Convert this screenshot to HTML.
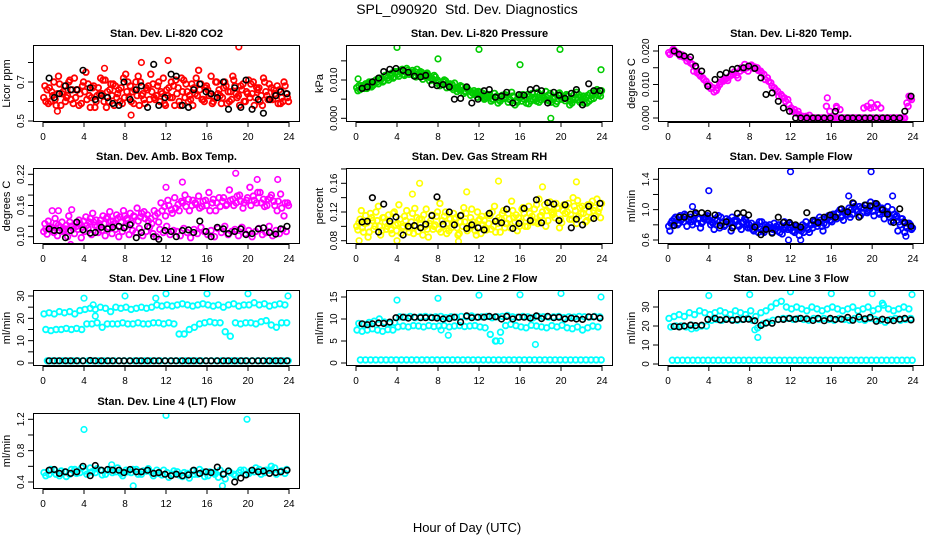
<!DOCTYPE html>
<html><head><meta charset="utf-8"><style>
html,body{margin:0;padding:0;background:#fff;}
svg{display:block;font-family:"Liberation Sans",sans-serif;}
</style></head><body>
<svg id="chart" width="936" height="540" viewBox="0 0 936 540">
<rect width="936" height="540" fill="#fff"/>
<text x="467" y="14" text-anchor="middle" font-size="14" style="white-space:pre">SPL_090920  Std. Dev. Diagnostics</text>
<text x="467" y="532" text-anchor="middle" font-size="13">Hour of Day (UTC)</text>
</svg>
<script>
const xTicks = [0,4,8,12,16,20,24];
const xTickLabels = ["0","4","8","12","16","20","24"];
const blackHours = [0.6,1.1,1.6,2.2,2.7,3.3,3.9,4.6,5.1,5.7,6.3,6.8,7.4,7.9,8.5,9.1,9.6,10.2,10.8,11.3,11.9,12.5,13.0,13.6,14.2,14.7,15.3,15.9,16.4,17.0,17.6,18.1,18.7,19.3,19.8,20.4,21.0,21.5,22.1,22.7,23.2,23.8];

// CO2
const co2Ticks=[0.5,0.6,0.7,0.8]; const co2Labels=["0.5","","0.7",""];
const co2A=[0.62,0.66,0.60,0.70,0.64,0.58,0.68,0.63,0.61,0.72,0.66,0.59,0.65,0.69,0.62,0.57,0.67,0.64,0.71,0.60,0.63,0.68,0.66,0.59,0.74,0.62,0.65,0.70,0.58,0.64,0.67,0.61,0.69,0.63,0.60,0.72,0.66,0.62,0.68,0.64,0.58,0.71,0.65,0.61,0.67,0.63,0.69,0.60,0.66,0.73,0.62,0.64,0.59,0.70,0.65,0.61,0.68,0.63,0.66,0.60,0.71,0.64,0.62,0.67,0.58,0.65,0.69,0.61,0.63,0.66,0.60,0.64];
const co2B=[0.68,0.59,0.65,0.61,0.73,0.64,0.60,0.70,0.66,0.62,0.58,0.68,0.75,0.63,0.67,0.60,0.64,0.71,0.57,0.66,0.69,0.62,0.60,0.72,0.65,0.68,0.59,0.63,0.70,0.61,0.66,0.74,0.62,0.68,0.65,0.59,0.63,0.70,0.58,0.67,0.72,0.62,0.60,0.69,0.64,0.76,0.61,0.67,0.63,0.59,0.70,0.66,0.62,0.68,0.60,0.73,0.64,0.58,0.69,0.65,0.62,0.70,0.67,0.60,0.72,0.63,0.61,0.66,0.68,0.59,0.70,0.62];
const co2C=[0.60,0.67,0.63,0.58,0.69,0.65,0.62,0.71,0.59,0.66,0.64,0.70,0.61,0.57,0.68,0.63,0.72,0.60,0.65,0.69,0.58,0.64,0.67,0.62,0.70,0.60,0.66,0.73,0.63,0.59,0.68,0.65,0.61,0.70,0.64,0.58,0.67,0.62,0.71,0.60,0.65,0.69,0.63,0.58,0.72,0.66,0.61,0.68,0.64,0.60,0.70,0.63,0.67,0.59,0.65,0.71,0.62,0.68,0.60,0.64,0.69,0.58,0.66,0.63,0.70,0.61,0.67,0.64,0.59,0.62,0.68,0.60];
const co2OutH=[19.1,9.6,12.2,8.6,1.4,6.0]; const co2OutV=[0.88,0.80,0.81,0.53,0.55,0.77];
const co2K=[0.72,0.62,0.64,0.68,0.66,0.66,0.76,0.67,0.61,0.63,0.62,0.59,0.58,0.70,0.61,0.66,0.68,0.57,0.79,0.58,0.62,0.74,0.73,0.58,0.57,0.66,0.69,0.65,0.64,0.62,0.70,0.56,0.67,0.57,0.71,0.56,0.61,0.54,0.61,0.63,0.65,0.64];

// Pressure
const prTicks=[0,0.005,0.010,0.015]; const prLabels=["0.000","","0.010",""];
const prA=[0.0080,0.0075,0.0085,0.0078,0.0090,0.0088,0.0095,0.0100,0.0098,0.0105,0.0110,0.0108,0.0115,0.0120,0.0112,0.0125,0.0118,0.0122,0.0115,0.0120,0.0110,0.0112,0.0105,0.0108,0.0095,0.0090,0.0098,0.0085,0.0088,0.0080,0.0075,0.0082,0.0070,0.0072,0.0065,0.0068,0.0060,0.0065,0.0055,0.0062,0.0050,0.0058,0.0045,0.0052,0.0060,0.0048,0.0055,0.0042,0.0058,0.0050,0.0062,0.0045,0.0055,0.0068,0.0048,0.0052,0.0060,0.0042,0.0056,0.0065,0.0050,0.0046,0.0058,0.0040,0.0052,0.0062,0.0048,0.0055,0.0045,0.0060,0.0070,0.0065];
const prB=[0.0072,0.0085,0.0078,0.0092,0.0082,0.0098,0.0090,0.0105,0.0112,0.0100,0.0118,0.0122,0.0110,0.0128,0.0120,0.0115,0.0125,0.0108,0.0118,0.0102,0.0115,0.0098,0.0100,0.0092,0.0085,0.0095,0.0080,0.0090,0.0075,0.0070,0.0085,0.0065,0.0078,0.0060,0.0072,0.0055,0.0068,0.0050,0.0058,0.0045,0.0065,0.0040,0.0055,0.0062,0.0042,0.0068,0.0035,0.0060,0.0045,0.0055,0.0038,0.0065,0.0050,0.0042,0.0060,0.0070,0.0045,0.0052,0.0038,0.0066,0.0055,0.0062,0.0035,0.0050,0.0068,0.0042,0.0058,0.0040,0.0065,0.0052,0.0075,0.0058];
const prC=[0.0085,0.0080,0.0090,0.0095,0.0085,0.0100,0.0105,0.0095,0.0110,0.0115,0.0105,0.0120,0.0125,0.0115,0.0130,0.0120,0.0112,0.0128,0.0122,0.0110,0.0118,0.0105,0.0112,0.0100,0.0090,0.0100,0.0088,0.0080,0.0092,0.0078,0.0082,0.0070,0.0075,0.0068,0.0062,0.0070,0.0058,0.0052,0.0062,0.0050,0.0055,0.0048,0.0060,0.0055,0.0050,0.0058,0.0045,0.0052,0.0062,0.0040,0.0058,0.0050,0.0045,0.0062,0.0055,0.0048,0.0065,0.0050,0.0044,0.0060,0.0052,0.0058,0.0045,0.0062,0.0048,0.0055,0.0040,0.0060,0.0050,0.0068,0.0060,0.0072];
const prOutH=[4.0,8.0,12.0,16.0,19.9,23.9,0.2,19.0]; const prOutV=[0.0185,0.0155,0.0180,0.0140,0.0180,0.0127,0.0103,0.0000];
const prK=[0.0078,0.0082,0.0095,0.0105,0.0122,0.0128,0.0130,0.0125,0.0120,0.0110,0.0108,0.0112,0.0088,0.0085,0.0088,0.0082,0.0050,0.0052,0.0082,0.0040,0.0050,0.0072,0.0075,0.0055,0.0058,0.0068,0.0040,0.0062,0.0060,0.0075,0.0078,0.0072,0.0040,0.0068,0.0060,0.0052,0.0065,0.0075,0.0035,0.0090,0.0072,0.0072];

// Li-820 Temp
const tpTicks=[0,0.005,0.010,0.015,0.020]; const tpLabels=["0.000","","0.010","","0.020"];
const tpA=[0.0195,0.0200,0.0198,0.0192,0.0188,0.0180,0.0175,0.0160,0.0150,0.0130,0.0120,0.0110,0.0098,0.0090,0.0082,0.0100,0.0110,0.0118,0.0125,0.0130,0.0128,0.0140,0.0145,0.0150,0.0155,0.0148,0.0150,0.0140,0.0130,0.0120,0.0105,0.0090,0.0080,0.0070,0.0060,0.0055,0.0030,0.0025,0.0020,0,0,0,0,0,0,0,0,0,0,0,0,0,0,0,0,0,0,0,0,0,0,0,0,0,0,0,0,0,0,0,0.0045,0.0060];
const tpB=[0.0190,0.0205,0.0195,0.0185,0.0182,0.0170,0.0165,0.0140,0.0135,0.0125,0.0115,0.0100,0.0088,0.0078,0.0090,0.0108,0.0115,0.0112,0.0130,0.0138,0.0120,0.0150,0.0160,0.0140,0.0158,0.0152,0.0142,0.0135,0.0115,0.0110,0.0095,0.0085,0.0065,0.0065,0.0050,0.0040,0.0020,0.0015,0.0010,0.0005,0.0005,0.0008,0,0,0,0,0.0035,0.0020,0,0.0030,0.0025,0,0,0,0,0,0,0.0030,0.0035,0.0030,0.0032,0.0040,0.0030,0,0,0,0,0,0,0,0.0035,0.0055];
const tpOutH=[15.6,16.5,19.9,23.6]; const tpOutV=[0.0060,0.0035,0.0045,0.0065];
const tpK=[0.0200,0.0190,0.0185,0.0182,0.0155,0.0140,0.0095,0.0115,0.0130,0.0135,0.0145,0.0148,0.0150,0.0155,0.0148,0.0120,0.0070,0.0075,0.0050,0.0030,0.0020,0,0,0,0,0,0,0,0.0020,0,0,0,0,0,0,0,0,0,0,0,0.0020,0.0065];

// Amb box temp
const bxTicks=[0.10,0.12,0.14,0.16,0.18,0.20,0.22]; const bxLabels=["0.10","","","0.16","","","0.22"];
const bxA=[0.110,0.105,0.115,0.108,0.102,0.118,0.112,0.100,0.120,0.106,0.114,0.098,0.110,0.116,0.104,0.122,0.108,0.112,0.102,0.118,0.106,0.114,0.100,0.110,0.120,0.104,0.112,0.108,0.116,0.102,0.110,0.118,0.106,0.100,0.114,0.108,0.120,0.104,0.112,0.110,0.102,0.116,0.108,0.098,0.114,0.106,0.118,0.110,0.104,0.112,0.100,0.116,0.108,0.120,0.104,0.110,0.114,0.102,0.118,0.106,0.112,0.100,0.110,0.116,0.104,0.108,0.120,0.102,0.112,0.106,0.114,0.110];
const bxB=[0.125,0.130,0.118,0.135,0.122,0.128,0.115,0.140,0.120,0.126,0.132,0.118,0.138,0.128,0.145,0.132,0.125,0.140,0.135,0.148,0.130,0.142,0.138,0.150,0.135,0.145,0.140,0.155,0.138,0.148,0.142,0.135,0.150,0.145,0.165,0.158,0.170,0.152,0.175,0.162,0.168,0.180,0.172,0.160,0.165,0.178,0.158,0.170,0.185,0.165,0.150,0.175,0.168,0.160,0.190,0.172,0.165,0.180,0.155,0.170,0.195,0.178,0.165,0.185,0.172,0.160,0.175,0.168,0.150,0.182,0.140,0.165];
const bxC=[0.115,0.120,0.112,0.125,0.118,0.110,0.122,0.128,0.115,0.120,0.125,0.130,0.122,0.135,0.128,0.120,0.132,0.125,0.138,0.130,0.125,0.135,0.128,0.140,0.132,0.126,0.138,0.130,0.145,0.135,0.130,0.125,0.140,0.128,0.150,0.140,0.160,0.145,0.155,0.150,0.165,0.158,0.150,0.170,0.162,0.155,0.168,0.160,0.150,0.172,0.165,0.158,0.175,0.162,0.170,0.160,0.178,0.168,0.165,0.175,0.160,0.170,0.185,0.165,0.158,0.172,0.180,0.160,0.168,0.155,0.165,0.160];
const bxOutH=[0.9,2.8,18.8,20.9,22.9,13.6,2.7,1.5,12.0]; const bxOutV=[0.150,0.152,0.222,0.210,0.210,0.205,0.085,0.150,0.195];
const bxK=[0.115,0.112,0.112,0.098,0.112,0.128,0.113,0.107,0.108,0.118,0.115,0.118,0.120,0.117,0.123,0.098,0.108,0.120,0.100,0.095,0.112,0.110,0.100,0.112,0.113,0.108,0.130,0.110,0.100,0.118,0.115,0.106,0.110,0.115,0.104,0.106,0.115,0.117,0.108,0.105,0.115,0.120];

// RH
const rhTicks=[0.08,0.10,0.12,0.14,0.16,0.18]; const rhLabels=["0.08","","0.12","","0.16",""];
const rhA=[0.100,0.110,0.092,0.105,0.118,0.096,0.108,0.088,0.112,0.100,0.095,0.120,0.104,0.090,0.114,0.098,0.106,0.125,0.093,0.110,0.100,0.085,0.116,0.102,0.096,0.108,0.120,0.094,0.104,0.112,0.090,0.100,0.118,0.097,0.106,0.088,0.110,0.102,0.095,0.115,0.100,0.108,0.092,0.122,0.104,0.098,0.112,0.094,0.106,0.118,0.100,0.110,0.124,0.104,0.115,0.130,0.108,0.120,0.112,0.125,0.105,0.118,0.132,0.110,0.122,0.114,0.128,0.106,0.120,0.135,0.115,0.125];
const rhB=[0.095,0.122,0.104,0.085,0.112,0.100,0.128,0.094,0.106,0.116,0.090,0.102,0.130,0.098,0.108,0.092,0.118,0.100,0.110,0.088,0.124,0.104,0.096,0.114,0.132,0.100,0.090,0.110,0.118,0.098,0.106,0.126,0.094,0.112,0.102,0.120,0.090,0.108,0.116,0.096,0.128,0.104,0.110,0.098,0.118,0.135,0.106,0.112,0.124,0.100,0.128,0.114,0.106,0.138,0.120,0.100,0.126,0.116,0.132,0.098,0.122,0.128,0.110,0.140,0.104,0.126,0.118,0.108,0.130,0.122,0.138,0.112];
const rhC=[0.105,0.098,0.115,0.092,0.108,0.120,0.100,0.112,0.096,0.104,0.118,0.094,0.110,0.100,0.122,0.098,0.090,0.112,0.104,0.116,0.096,0.108,0.100,0.120,0.092,0.114,0.104,0.098,0.110,0.088,0.116,0.106,0.100,0.124,0.094,0.108,0.114,0.098,0.104,0.120,0.092,0.112,0.118,0.104,0.110,0.122,0.116,0.100,0.126,0.112,0.118,0.106,0.130,0.114,0.108,0.122,0.134,0.118,0.126,0.110,0.130,0.120,0.116,0.128,0.136,0.118,0.124,0.130,0.112,0.126,0.120,0.132];
const rhOutH=[6.2,13.9,21.5,4.0,10.0,0.3,5.5,10.8,18.2]; const rhOutV=[0.160,0.163,0.162,0.080,0.079,0.080,0.145,0.148,0.155];
const rhK=[0.106,0.107,0.140,0.092,0.131,0.107,0.113,0.088,0.100,0.101,0.098,0.103,0.115,0.141,0.103,0.120,0.102,0.115,0.097,0.102,0.098,0.095,0.118,0.107,0.105,0.124,0.097,0.104,0.125,0.108,0.137,0.105,0.133,0.131,0.108,0.130,0.098,0.110,0.102,0.128,0.111,0.132];

// Sample flow
const sfTicks=[0.6,0.8,1.0,1.2,1.4]; const sfLabels=["0.6","","1.0","","1.4"];
const sfA=[0.78,0.85,0.90,0.82,0.88,0.92,0.86,0.80,0.94,0.88,0.84,0.90,0.86,0.82,0.80,0.76,0.84,0.88,0.82,0.78,0.86,0.90,0.84,0.80,0.76,0.72,0.80,0.74,0.70,0.78,0.76,0.82,0.72,0.78,0.84,0.74,0.80,0.70,0.76,0.72,0.78,0.74,0.80,0.86,0.82,0.78,0.88,0.92,0.84,0.90,0.96,0.92,0.98,1.02,0.94,1.00,1.04,0.96,1.06,1.00,0.98,1.04,0.94,1.00,0.96,0.90,0.86,0.92,0.80,0.84,0.76,0.80];
const sfB=[0.72,0.80,0.86,0.92,0.84,0.78,0.90,0.86,0.82,0.76,0.88,0.92,0.80,0.74,0.86,0.90,0.78,0.84,0.72,0.86,0.80,0.74,0.88,0.76,0.82,0.78,0.70,0.84,0.80,0.76,0.70,0.74,0.80,0.68,0.76,0.82,0.72,0.78,0.66,0.80,0.84,0.70,0.76,0.82,0.90,0.72,0.80,0.86,0.94,0.88,1.00,0.86,0.94,0.90,1.08,0.98,0.92,1.02,0.96,1.10,0.92,1.06,1.00,0.88,1.04,0.84,0.94,0.72,0.88,0.70,0.82,0.74];
const sfC=[0.82,0.88,0.80,0.86,0.94,0.88,0.84,0.92,0.88,0.82,0.90,0.86,0.84,0.88,0.92,0.82,0.80,0.86,0.90,0.84,0.78,0.82,0.86,0.80,0.74,0.78,0.84,0.72,0.76,0.80,0.74,0.78,0.70,0.74,0.80,0.76,0.72,0.78,0.74,0.70,0.76,0.80,0.84,0.78,0.86,0.82,0.90,0.86,0.92,0.96,0.90,0.98,0.94,1.00,1.04,0.98,1.02,1.06,0.98,1.04,1.08,0.96,1.02,0.98,0.94,1.00,0.90,0.84,0.88,0.78,0.82,0.76];
const sfOutH=[12.0,19.9,4.0,2.4,11.8,13.0,23.3,17.7,22.0]; const sfOutV=[1.50,1.50,1.25,1.04,0.60,0.60,0.65,1.18,1.18];
const sfK=[0.79,0.90,0.90,0.94,0.96,0.96,0.95,0.93,0.79,0.84,0.76,0.95,0.96,0.93,0.77,0.67,0.74,0.69,0.90,0.83,0.83,0.80,0.77,0.96,0.86,0.83,0.90,0.93,0.90,1.01,0.97,1.09,0.90,1.06,1.05,1.08,1.00,0.94,0.83,1.01,0.83,0.78];

// Line 1
const l1Ticks=[0,5,10,15,20,25,30]; const l1Labels=["0","","10","","20","","30"];
const l1A=[22,22.5,22,23,22.5,23,22,23.5,24,24.5,24,25,24.5,23,25,24.5,25,24,24.5,25,24.5,25,26,25.5,26,25.5,26,26.5,26,25.5,26,26.5,26,25.5,26,25,26,26.5,25.5,26,26,27,26,26.5,25.5,26,26.5,26];
const l1B=[15,14.5,15,15,15.5,15,15.5,15,17.5,17.5,18,16,17.5,17.5,17.5,18,17.5,17.5,18,17.5,17.5,18,18,17.5,18,17.5,13,13,15,16,17.5,18,18.5,18,18,14,12,18,17.5,18,18,17.5,18.5,19,17,16,18,18];
const l1C=[1,1,1,1,1,1,1,1,1,1,1,1,1,1,1,1,1,1,1,1,1,1,1,1,1,1,1,1,1,1,1,1,1,1,1,1,1,1,1,1,1,1,1,1,1,1,1,1];
const l1OutH=[4.0,8.0,12.0,16.0,20.0,23.9,11.0,4.9,5.1]; const l1OutV=[29,30,31,31,31,30,29,26,21];
const l1K=[1,1,1,1,1,1,1,1.1,1,1,1,1,1,1,1,1,1,1,1,1,1,1,1,1,1,1,1,1,1,1,1,1,1,1,1,1,1,1,1,1,1,1];

// Line 2
const l2Ticks=[0,5,10,15]; const l2Labels=["0","5","10","15"];
const l2A=[7.5,7.2,7.5,7.8,7.5,7.2,7.6,7.5,8.2,8.4,8.2,8.5,8.4,8.2,8.5,8.3,8.4,8.5,8.2,8.4,8.5,8.3,8.4,8.5,8.2,8.0,6.5,5.0,7.0,8.5,8.8,8.5,8.2,8.0,8.6,8.4,8.2,8.0,8.5,8.2,8.6,8.0,7.8,8.2,7.5,8.0,8.4,8.2];
const l2B=[9.0,8.8,9.2,9.5,10.0,9.3,9.0,9.2,10.5,10.4,10.6,10.3,10.5,10.6,10.4,10.5,10.6,10.3,10.5,10.4,10.6,10.5,10.7,10.4,10.5,10.6,10.3,10.5,10.6,10.8,10.5,10.4,10.6,10.5,10.3,10.6,10.5,10.4,10.5,10.6,10.3,10.5,10.4,10.6,10.5,10.4,10.6,10.5];
const l2C=[0.7,0.7,0.7,0.7,0.7,0.7,0.7,0.7,0.7,0.7,0.7,0.7,0.7,0.7,0.7,0.7,0.7,0.7,0.7,0.7,0.7,0.7,0.7,0.7,0.7,0.7,0.7,0.7,0.7,0.7,0.7,0.7,0.7,0.7,0.7,0.7,0.7,0.7,0.7,0.7,0.7,0.7,0.7,0.7,0.7,0.7,0.7,0.7];
const l2OutH=[4.0,8.0,12.0,16.0,20.0,23.9,17.5,9.0,8.3,13.7,14.1]; const l2OutV=[14.3,14.7,15.4,15.5,15.8,15.0,4.2,6.3,7.5,5.0,5.0];
const l2K=[8.9,8.7,8.9,9.1,9.0,9.3,10.3,10.4,10.2,10.4,10.3,10.3,10.3,10.2,10.0,10.1,10.4,9.3,10.7,10.3,10.4,10.4,10.6,10.5,10.0,10.6,10.0,10.4,10.4,10.2,10.7,10.1,10.6,10.3,10.4,10.0,10.2,10.0,9.9,10.5,10.5,10.2];

// Line 3
const l3Ticks=[0,10,20,30]; const l3Labels=["0","10","20","30"];
const l3A=[24,25,26,25,27,26,28,27,26,27,28,27,26,28,27,26,28,25,27,28,30,32,33,30,29,30,29,28,30,29,28,29,30,29,28,29,30,28,29,30,28,29,31,29,28,29,30,29];
const l3B=[19.5,20,20,19.5,20.5,19,20,20,23,23.5,23,24,23.5,23,23.5,24,23,19,21,22,23,23.5,24,24,23.5,24,23.5,23,24,23.5,24,23.5,23,24,23.5,23,24,23.5,23,24,23.5,23,22,23.5,24,23,23.5,24];
const l3C=[2,2,2,2,2,2,2,2,2,2,2,2,2,2,2,2,2,2,2,2,2,2,2,2,2,2,2,2,2,2,2,2,2,2,2,2,2,2,2,2,2,2,2,2,2,2,2,2];
const l3OutH=[4.0,8.0,12.0,16.0,20.0,23.9,8.8,8.5,21.0,2.3]; const l3OutV=[36,36.5,38,37,37,36.5,14,18,32,18.5];
const l3K=[19.8,19.5,20,20.5,20.2,20.4,23.5,24,23.2,23.5,23,23.4,23.5,23.6,22.8,20.3,21.5,21.4,23.4,23.5,24,23.6,24,23.8,22.9,24,22.8,24,23.4,23.6,24.5,23,24.8,23.8,24.5,22.5,23.6,23,22.8,23.6,24,23.2];

// Line 4
const l4Ticks=[0.4,0.6,0.8,1.0,1.2]; const l4Labels=["0.4","","0.8","","1.2"];
const l4A=[0.52,0.50,0.55,0.48,0.53,0.50,0.56,0.52,0.54,0.58,0.52,0.55,0.50,0.56,0.53,0.51,0.55,0.52,0.56,0.50,0.54,0.52,0.55,0.49,0.52,0.50,0.53,0.47,0.51,0.54,0.50,0.53,0.48,0.52,0.46,0.51,0.54,0.50,0.52,0.55,0.51,0.53,0.56,0.52,0.55,0.58,0.53,0.51];
const l4B=[0.48,0.56,0.50,0.54,0.47,0.56,0.51,0.58,0.50,0.53,0.57,0.49,0.55,0.52,0.58,0.48,0.53,0.56,0.50,0.54,0.57,0.48,0.51,0.55,0.46,0.54,0.49,0.52,0.45,0.50,0.56,0.47,0.53,0.50,0.55,0.44,0.52,0.48,0.55,0.50,0.54,0.58,0.50,0.55,0.60,0.50,0.54,0.56];
const l4OutH=[4.0,12.0,19.9,8.8,17.5,6.7]; const l4OutV=[1.07,1.25,1.20,0.35,0.35,0.62];
const l4K=[0.55,0.56,0.51,0.53,0.51,0.53,0.60,0.48,0.61,0.55,0.56,0.55,0.55,0.52,0.56,0.53,0.53,0.55,0.51,0.52,0.50,0.48,0.50,0.48,0.49,0.55,0.51,0.53,0.52,0.59,0.50,0.54,0.40,0.45,0.49,0.55,0.53,0.54,0.51,0.52,0.53,0.55];

// layout (not data)
const cols=[[33,300],[346,613],[658,924]];
const rows=[[45,122],[168,244],[290,366],[413,489]];
const seriesOffsets=[0.2,0.55,0.85];
const NS="http://www.w3.org/2000/svg";
const svg=document.getElementById('chart');
function mk(tag,attrs,parent){const e=document.createElementNS(NS,tag);for(const k in attrs)e.setAttribute(k,attrs[k]);(parent||svg).appendChild(e);return e;}

const panels=[
 {key:'co2',title:'Stan. Dev. Li-820 CO2',ylab:'Licor ppm',c:0,r:0,y0:0.5,p0:121,y1:0.7,p1:82,ticks:co2Ticks,labels:co2Labels,color:'#ff0000',series:[co2A,co2B,co2C],outH:co2OutH,outV:co2OutV,k:co2K},
 {key:'pressure',title:'Stan. Dev. Li-820 Pressure',ylab:'kPa',c:1,r:0,y0:0,p0:118.3,y1:0.010,p1:80,ticks:prTicks,labels:prLabels,color:'#00cc00',series:[prA,prB,prC],outH:prOutH,outV:prOutV,k:prK},
 {key:'li820-temp',title:'Stan. Dev. Li-820 Temp.',ylab:'degrees C',c:2,r:0,y0:0,p0:118,y1:0.020,p1:51,ticks:tpTicks,labels:tpLabels,color:'#ff00ff',series:[tpA,tpB],outH:tpOutH,outV:tpOutV,k:tpK},
 {key:'box-temp',title:'Stan. Dev. Amb. Box Temp.',ylab:'degrees C',c:0,r:1,y0:0.10,p0:236.7,y1:0.22,p1:174.3,ticks:bxTicks,labels:bxLabels,color:'#ff00ff',series:[bxA,bxB,bxC],outH:bxOutH,outV:bxOutV,k:bxK},
 {key:'rh',title:'Stan. Dev. Gas Stream RH',ylab:'percent',c:1,r:1,y0:0.08,p0:240.7,y1:0.16,p1:183.3,ticks:rhTicks,labels:rhLabels,color:'#ffff00',series:[rhA,rhB,rhC],outH:rhOutH,outV:rhOutV,k:rhK},
 {key:'sample-flow',title:'Stan. Dev. Sample Flow',ylab:'ml/min',c:2,r:1,y0:0.6,p0:240,y1:1.4,p1:179.3,ticks:sfTicks,labels:sfLabels,color:'#0000ff',series:[sfA,sfB,sfC],outH:sfOutH,outV:sfOutV,k:sfK},
 {key:'line1',title:'Stan. Dev. Line 1 Flow',ylab:'ml/min',c:0,r:2,y0:0,p0:363,y1:30,p1:296,ticks:l1Ticks,labels:l1Labels,color:'#00ffff',series:[l1A,l1B,l1C],outH:l1OutH,outV:l1OutV,k:l1K},
 {key:'line2',title:'Stan. Dev. Line 2 Flow',ylab:'ml/min',c:1,r:2,y0:0,p0:363,y1:15,p1:297,ticks:l2Ticks,labels:l2Labels,color:'#00ffff',series:[l2A,l2B,l2C],outH:l2OutH,outV:l2OutV,k:l2K},
 {key:'line3',title:'Stan. Dev. Line 3 Flow',ylab:'ml/min',c:2,r:2,y0:0,p0:364,y1:30,p1:307,ticks:l3Ticks,labels:l3Labels,color:'#00ffff',series:[l3A,l3B,l3C],outH:l3OutH,outV:l3OutV,k:l3K},
 {key:'line4',title:'Stan. Dev. Line 4 (LT) Flow',ylab:'ml/min',c:0,r:3,y0:0.4,p0:482,y1:1.2,p1:419.3,ticks:l4Ticks,labels:l4Labels,color:'#00ffff',series:[l4A,l4B],outH:l4OutH,outV:l4OutV,k:l4K}
];

panels.forEach(p=>{
  const [L,R]=cols[p.c],[T,B]=rows[p.r];
  const g=mk('g',{});
  
  
  const xs=h=>L+10+h*(R-L-21)/24;
  const ys=v=>p.p0+(v-p.y0)*(p.p1-p.p0)/(p.y1-p.y0);
  const clip='clip-'+p.key;
  const cp=mk('clipPath',{id:clip},g);mk('rect',{x:L,y:T,width:R-L,height:B-T},cp);
  const pts=mk('g',{'clip-path':'url(#'+clip+')'},g);
  
  
  const dot=(h,v,col,sw)=>{const c=mk('circle',{cx:xs(h).toFixed(1),cy:ys(v).toFixed(1),r:2.8,fill:'none',stroke:col,'stroke-width':sw},pts);
    
    };
  p.series.forEach((s,si)=>{const n=s.length;s.forEach((v,i)=>dot((i+seriesOffsets[si])*24/n,v,p.color,1.8));});
  p.outH.forEach((h,i)=>dot(h,p.outV[i],p.color,1.6));
  p.k.forEach((v,i)=>dot(blackHours[i],v,'#000',1.6));
  const box=mk('rect',{x:L+0.5,y:T+0.5,width:R-L-1,height:B-T-1,fill:'none',stroke:'#000','stroke-width':1},g);
  
  
  const t=mk('text',{x:(L+R)/2,y:T-8,'text-anchor':'middle','font-size':11,'font-weight':'bold'},g);t.textContent=p.title;
  
  
  const xa=mk('g',{},g);
  
  
  mk('line',{x1:xs(xTicks[0]),x2:xs(xTicks[xTicks.length-1]),y1:B+0.5,y2:B+0.5,stroke:'#000'},xa);
  xTicks.forEach((tv,i)=>{mk('line',{x1:xs(tv),x2:xs(tv),y1:B,y2:B+5,stroke:'#000'},xa);
    const tl=mk('text',{x:xs(tv),y:B+18,'text-anchor':'middle','font-size':10},xa);tl.textContent=xTickLabels[i];});
  const ya=mk('g',{},g);
  
  
  mk('line',{x1:L+0.5,x2:L+0.5,y1:ys(p.ticks[0]),y2:ys(p.ticks[p.ticks.length-1]),stroke:'#000'},ya);
  p.ticks.forEach((tv,i)=>{const y=ys(tv);mk('line',{x1:L-5,x2:L,y1:y,y2:y,stroke:'#000'},ya);
    if(p.labels[i]){const tl=mk('text',{x:L-9,y:y,'text-anchor':'middle','font-size':10,transform:`rotate(-90 ${L-9} ${y})`},ya);tl.textContent=p.labels[i];}});
  const yl=mk('text',{x:L-23,y:(T+B)/2,'text-anchor':'middle','font-size':11,transform:`rotate(-90 ${L-23} ${(T+B)/2})`},g);yl.textContent=p.ylab;
  
  
});
</script>
</body></html>
